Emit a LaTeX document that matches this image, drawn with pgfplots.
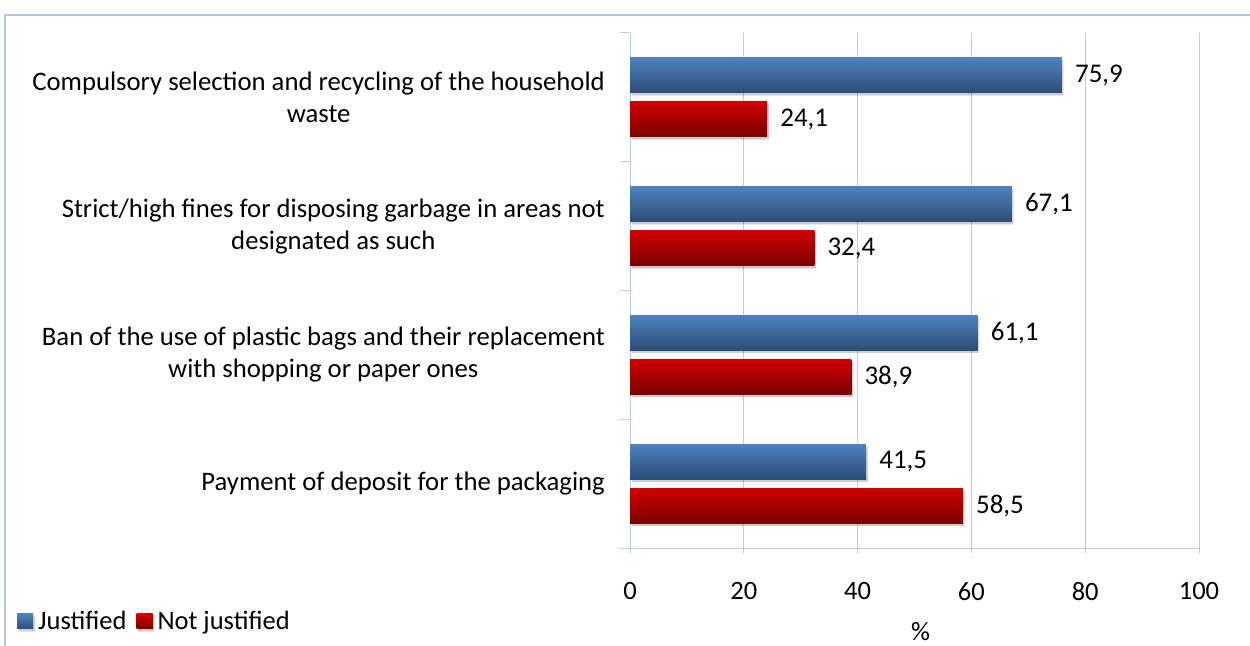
\documentclass[border=0pt]{standalone}
\usepackage{fontspec}
\setmainfont{Carlito}
\usepackage{pgfplots}
\pgfplotsset{compat=1.18}
\definecolor{gridblue}{HTML}{B9CDE5}
\definecolor{frameblue}{HTML}{B3C7E0}
\definecolor{bluetop}{HTML}{4F82BF}
\definecolor{bluebot}{HTML}{2C4C76}
\definecolor{redtop}{HTML}{D00000}
\definecolor{redbot}{HTML}{7A0000}
\pgfplotsset{
  bshadow/.style={preaction={fill=black, opacity=0.12, transform canvas={xshift=1.5bp, yshift=-2.5bp}}},
  bbar/.style={draw=none, top color=bluetop, bottom color=bluebot, bar shift=0.171, bshadow},
  rbar/.style={draw=none, top color=redtop, bottom color=redbot, bar shift=-0.171, bshadow},
}
\begin{document}
\begin{tikzpicture}
\path[use as bounding box] (0,0) rectangle (1250bp,646bp);
\draw[frameblue, line width=1.5bp] (5bp,-2bp) -- (5bp,631bp) -- (1252bp,631bp);
\begin{axis}[
  at={(630bp,98bp)}, anchor=south west,
  scale only axis, width=569bp, height=515bp,
  xbar, xmin=0, xmax=100, ymin=-0.5, ymax=3.5,
  bar width=0.272,
  axis x line*=bottom, axis y line*=left,
  axis line style={gridblue, line width=1bp},
  xmajorgrids, grid style={gridblue, line width=1bp},
  xtick={0,20,40,60,80,100},
  ytick={-0.5,0.5,1.5,2.5,3.5},
  yticklabels={},
  extra y ticks={0,1,2,3},
  extra y tick labels={{Payment of deposit for the packaging},
    {Ban of the use of plastic bags and their replacement\\with shopping or paper ones},
    {Strict/high fines for disposing garbage in areas not\\designated as such},
    {Compulsory selection and recycling of the household\\waste}},
  extra y tick style={major tick length=0pt},
  major tick length=10bp,
  xtick align=center, ytick align=outside,
  tick style={gridblue, line width=1bp},
  /pgf/number format/assume math mode=true,
  /pgf/number format/use comma,
  /pgf/number format/fixed,
  /pgf/number format/fixed zerofill,
  /pgf/number format/precision=1,
  xticklabel style={font=\fontsize{26.5bp}{30bp}\selectfont, anchor=north, inner sep=0pt, yshift=-29bp,
     /pgf/number format/precision=0, /pgf/number format/fixed zerofill=false},
  yticklabel style={font=\fontsize{26.7bp}{32bp}\selectfont, align=center, anchor=east, inner sep=0pt, xshift=-25bp},
  xlabel={\%},
  every axis x label/.style={at={(axis description cs:0.5,0)}, anchor=center, xshift=6bp, yshift=-84bp, font=\fontsize{26.5bp}{30bp}\selectfont},
  nodes near coords,
  every node near coord/.append style={anchor=west, inner sep=0pt, xshift=13bp, font=\fontsize{27bp}{30bp}\selectfont, black},
  legend columns=2,
  legend style={at={(axis description cs:-1.0773,-0.1427)}, anchor=west, draw=none, fill=none, inner sep=0pt,
    font=\fontsize{26.5bp}{30bp}\selectfont,
    nodes={inner xsep=0pt, inner ysep=0pt},
    /tikz/every odd column/.append style={column sep=5bp},
    /tikz/every even column/.append style={column sep=10bp}},
  legend image code/.code={\fill[#1] (0bp,-7.5bp) rectangle (16bp,7.5bp);},
  clip=false,
]
\addplot[bbar] coordinates {(75.9,3)};
\addlegendentry{Justified}
\addplot[rbar] coordinates {(24.1,3)};
\addlegendentry{Not justified}
\addplot[bbar, forget plot] coordinates {(67.1,2)};
\addplot[rbar, forget plot] coordinates {(32.4,2)};
\addplot[bbar, forget plot] coordinates {(61.1,1)};
\addplot[rbar, forget plot] coordinates {(38.9,1)};
\addplot[bbar, forget plot] coordinates {(41.5,0)};
\addplot[rbar, forget plot] coordinates {(58.5,0)};
\end{axis}
\end{tikzpicture}
\end{document}
